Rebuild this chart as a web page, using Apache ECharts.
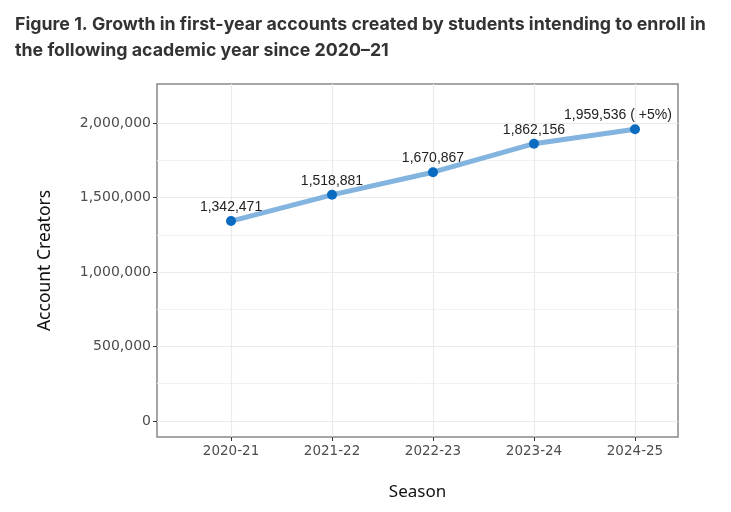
<!DOCTYPE html>
<html><head><meta charset="utf-8">
<script src="https://cdn.jsdelivr.net/npm/echarts@6/dist/echarts.min.js"></script>
<style>html,body{margin:0;padding:0;background:#fff}#c{width:731px;height:512px}</style>
</head><body><div id="c"></div>
<script>
const seasons = ['2020-21','2021-22','2022-23','2023-24','2024-25'];
const accountCreators = [1342471, 1518881, 1670867, 1862156, 1959536];
const lastNote = ' ( +5%)';
const yTicks = [0, 500000, 1000000, 1500000, 2000000];
const yMinor = [250000, 750000, 1250000, 1750000];
const titleLines = ['Figure 1. Growth in first-year accounts created by students intending to enroll in', 'the following academic year since 2020\u201321'];

const chart = echarts.init(document.getElementById('c'), null, {renderer:'canvas'});
const fmt = v => v.toLocaleString('en-US');
const idx = seasons.map((s,i)=>i);
const yMin = -107774, yMax = 2263264;
const xMin = -0.733, xMax = 4.426;

chart.setOption({
  backgroundColor: '#fff',
  animation: false,
  title: {
    text: titleLines.join('\n'), left: 10, top: 7,
    textStyle: {fontFamily: 'Inter', fontWeight: 'bold', fontSize: 17.8, color: '#333', lineHeight: 26}
  },
  grid: {left: 157, right: 53, top: 84, bottom: 75, show: true, borderColor: '#888', borderWidth: 1.5, backgroundColor: '#fff'},
  xAxis: [{
    type: 'value', min: xMin, max: xMax,
    name: 'Season', nameLocation: 'middle', nameGap: 47,
    nameTextStyle: {fontFamily: 'Noto Sans', fontSize: 17, color: '#111'},
    axisLine: {show: false, onZero: false},
    axisTick: {show: true, length: 4, lineStyle: {color: '#333'}, customValues: idx},
    axisLabel: {customValues: idx, formatter: v => seasons[Math.round(v)], fontFamily: 'DejaVu Sans', fontSize: 13.5, color: '#4d4d4d', margin: 7},
    splitLine: {show: true, lineStyle: {color: '#ebebeb', width: 1.2}}
  }],
  yAxis: [{
    type: 'value', min: yMin, max: yMax,
    name: 'Account Creators', nameLocation: 'middle', nameGap: 103, nameRotate: 90,
    nameTextStyle: {fontFamily: 'Noto Sans', fontSize: 17.5, color: '#111'},
    axisLine: {show: false, onZero: false},
    axisTick: {show: true, length: 4, lineStyle: {color: '#333'}, customValues: yTicks},
    axisLabel: {customValues: yTicks, formatter: v => fmt(v), fontFamily: 'DejaVu Sans', fontSize: 14, color: '#4d4d4d', margin: 6},
    splitLine: {show: true, lineStyle: {color: '#ebebeb', width: 1.2}}
  },{
    type: 'value', min: yMin, max: yMax, position: 'left',
    axisLine: {show: false, onZero: false}, axisTick: {show: false, customValues: yMinor},
    axisLabel: {show: false, customValues: yMinor},
    splitLine: {show: true, lineStyle: {color: '#f2f2f2', width: 1}}
  }],
  series: [{
    type: 'line',
    data: accountCreators.map((v,i)=>[i, v]),
    lineStyle: {color: '#82b4df', width: 5},
    symbol: 'circle', symbolSize: 10,
    itemStyle: {color: '#0a6bc1'},
    z: 3,
    label: {
      show: true, position: 'top', distance: 2,
      fontFamily: 'Liberation Sans', fontSize: 14, color: '#222',
      formatter: p => fmt(p.value[1]) + (p.dataIndex === accountCreators.length-1 ? lastNote : '')
    },
    labelLayout: p => p.dataIndex === accountCreators.length-1 ? {dx: -17} : {}
  }]
});
</script></body></html>
